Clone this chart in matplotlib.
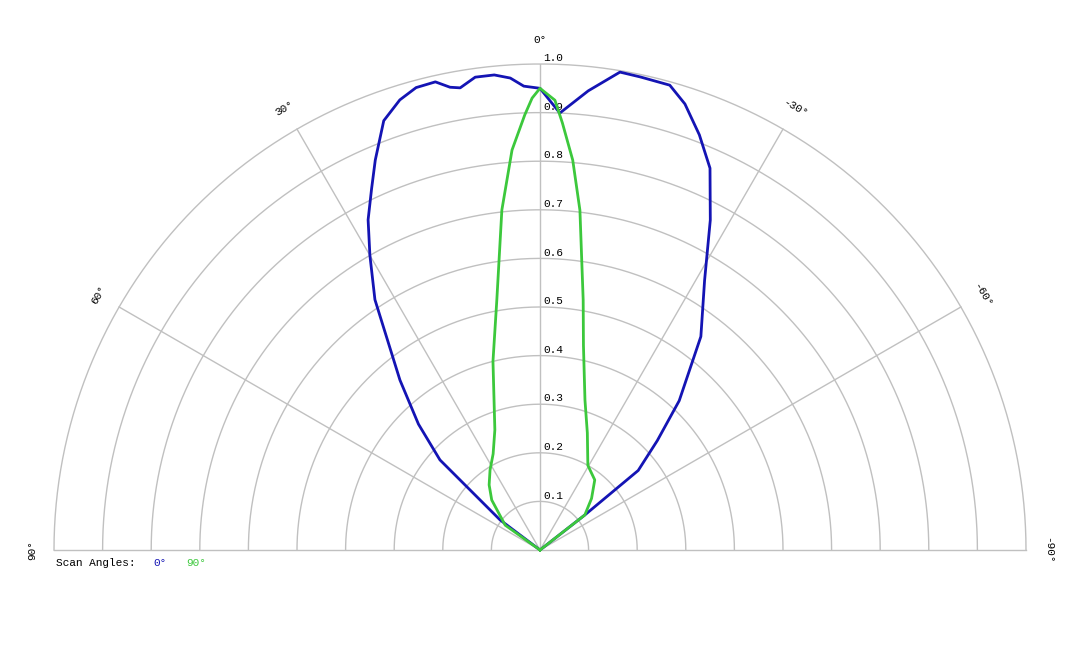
import numpy as np
import matplotlib.pyplot as plt

# scan 0 deg (blue), angles in degrees (positive = left), relative intensity
blue_ang = [-56, -52, -51, -47, -43, -37, -31.4, -27.3, -24, -21, -18, -15.6, -12, -9.5, -6, -2.6,
            0, 2, 3.6, 5.5, 7.8, 9.8, 11, 12.6, 15, 17.3, 20, 22.9, 25, 27.5, 30, 33.4, 39.5, 44, 48, 53, 56]
blue_r = [0.0, 0.117, 0.26, 0.33, 0.42, 0.55, 0.65, 0.764, 0.86, 0.915, 0.965, 0.993, 0.995, 0.997, 0.95, 0.90,
          0.95, 0.955, 0.973, 0.982, 0.982, 0.965, 0.97, 0.987, 0.985, 0.97, 0.94, 0.871, 0.82, 0.766, 0.70, 0.617, 0.453, 0.36, 0.277, 0.103, 0.0]

# scan 90 deg (green)
green_ang = [-56, -52, -45, -38, -29.5, -22, -16.7, -12, -9.8, -6.7, -4.8, -3, -1.9,
             0, 1, 2, 4, 6.4, 9.8, 14, 20.6, 26, 32, 38, 44, 54.5, 57]
green_r = [0.0, 0.117, 0.15, 0.183, 0.2, 0.26, 0.322, 0.43, 0.522, 0.704, 0.805, 0.88, 0.926,
           0.95, 0.93, 0.896, 0.825, 0.704, 0.522, 0.40, 0.264, 0.22, 0.194, 0.17, 0.143, 0.088, 0.0]

rings = np.round(np.arange(0.1, 1.01, 0.1), 1)
spokes = [0, 30, 60, -30, -60]
angle_labels = [0, 30, 60, 90, -30, -60, -90]

font = 'Liberation Mono'
blue = '#1414b4'
green = '#3cc83c'
grid = '#c0c0c0'


def to_xy(ang_deg, r):
    a = np.radians(np.asarray(ang_deg, dtype=float))
    r = np.asarray(r, dtype=float)
    return -r * np.sin(a), r * np.cos(a)


fig = plt.figure(figsize=(10.8, 6.48), dpi=100)
ax = fig.add_axes([54/1080, 98/648, 972/1080, 486/648])
ax.set_xlim(-1, 1)
ax.set_ylim(0, 1)
ax.axis('off')

th = np.linspace(-90, 90, 400)
for r in rings:
    x, y = to_xy(th, np.full_like(th, r))
    ax.plot(x, y, color=grid, lw=1, zorder=1, clip_on=False)
for a in spokes:
    x, y = to_xy([a, a], [0, 1])
    ax.plot(x, y, color=grid, lw=1, zorder=1)
ax.plot([-1, 1], [0, 0], color=grid, lw=1, zorder=1, clip_on=False)

for r in rings:
    ax.text(0.028, r + 0.012, f'{r:.1f}', fontsize=8, family=font,
            ha='center', va='center', zorder=3)

for a in angle_labels:
    rr = 1.05 if abs(a) != 90 else 1.045
    x, y = to_xy(a, rr)
    ax.text(x, y, f'{a}°', fontsize=8, family=font, rotation=a,
            ha='center', va='center', rotation_mode='anchor', clip_on=False)

x, y = to_xy(blue_ang, blue_r)
ax.plot(x, y, color=blue, lw=2, zorder=4, clip_on=False)
x, y = to_xy(green_ang, green_r)
ax.plot(x, y, color=green, lw=2, zorder=4, clip_on=False)

fig.text(56/1080, 1 - 563/648, 'Scan Angles:', fontsize=8, family=font, va='center')
fig.text(153/1080, 1 - 563/648, '0°', fontsize=8, family=font, va='center', color=blue)
fig.text(186/1080, 1 - 563/648, '90°', fontsize=8, family=font, va='center', color=green)

fig.savefig('out.png', dpi=100)
